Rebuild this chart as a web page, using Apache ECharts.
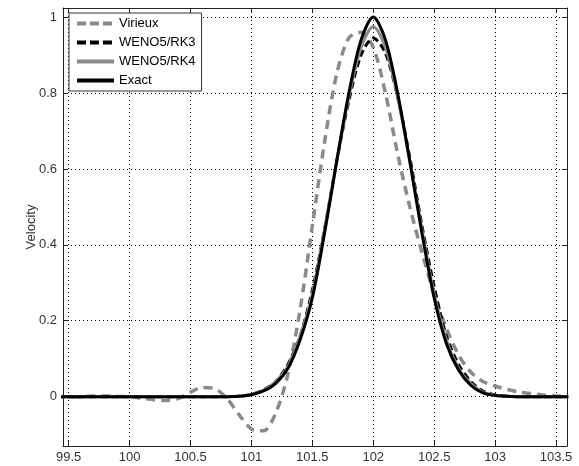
<!DOCTYPE html>
<html>
<head>
<meta charset="utf-8">
<script src="https://cdn.jsdelivr.net/npm/echarts@6/dist/echarts.min.js"></script>
<style>
  html, body { margin: 0; padding: 0; background: #fff; }
  #chart { width: 579px; height: 466px; }
</style>
</head>
<body>
<div id="chart"></div>
<script>
// Sample positions along the profile
const xs = [99.4, 99.5, 99.6, 99.7, 99.8, 99.9, 100.0, 100.1, 100.2, 100.3, 100.4,
  100.5, 100.6, 100.7, 100.8, 100.9, 101.0, 101.1, 101.2, 101.3, 101.4,
  101.5, 101.6, 101.7, 101.8, 101.9, 102.0, 102.1, 102.2, 102.3, 102.4,
  102.5, 102.6, 102.7, 102.8, 102.9, 103.0, 103.1, 103.2, 103.3, 103.4,
  103.5, 103.6];

// Velocity profiles
const virieux = [0, 0, 0, 0.002, 0.002, 0.001, 0, -0.004, -0.008, -0.01, -0.005,
  0.012, 0.024, 0.021, -0.005, -0.048, -0.085, -0.09, -0.043, 0.06, 0.23,
  0.45, 0.67, 0.85, 0.945, 0.96, 0.92, 0.80, 0.64, 0.50, 0.38,
  0.27, 0.18, 0.11, 0.065, 0.04, 0.028, 0.019, 0.012, 0.008, 0.004,
  0.002, 0];
const weno5rk3 = [0, 0, 0, 0, 0, 0, 0, 0, 0, 0, 0,
  0, 0, 0, 0, 0.001, 0.006, 0.018, 0.04, 0.085, 0.16,
  0.28, 0.44, 0.62, 0.78, 0.90, 0.945, 0.905, 0.79, 0.63, 0.45,
  0.29, 0.16, 0.085, 0.04, 0.015, 0.005, 0.001, 0, 0, 0,
  0, 0];
const weno5rk4 = [0, 0, 0, 0, 0, 0, 0, 0, 0, 0, 0,
  0, 0, 0, 0, 0.001, 0.006, 0.017, 0.04, 0.08, 0.16,
  0.27, 0.44, 0.62, 0.79, 0.92, 0.975, 0.92, 0.79, 0.62, 0.44,
  0.27, 0.15, 0.075, 0.035, 0.012, 0.004, 0.001, 0, 0, 0,
  0, 0];
const exact = [0, 0, 0, 0, 0, 0, 0, 0, 0, 0, 0,
  0, 0, 0, 0, 0.001, 0.005, 0.015, 0.035, 0.075, 0.15,
  0.26, 0.43, 0.62, 0.80, 0.94, 1.0, 0.94, 0.80, 0.62, 0.43,
  0.26, 0.14, 0.07, 0.03, 0.01, 0.003, 0.001, 0, 0, 0,
  0, 0];

const seriesNames = ['Virieux', 'WENO5/RK3', 'WENO5/RK4', 'Exact'];

const pairs = (ys) => xs.map((x, i) => [x, ys[i]]);

const FONT = 'Liberation Sans, Arial, sans-serif';
const AXIS_COLOR = '#222';
const X_MIN = 99.454, X_MAX = 103.59;
const Y_MIN = -0.13, Y_MAX = 1.024;

function xAxisCfg(pos, showLabels) {
  return {
    type: 'value', position: pos, min: X_MIN, max: X_MAX,
    minInterval: 0.5, maxInterval: 0.5,
    axisLine: { show: true, onZero: false, lineStyle: { color: AXIS_COLOR, width: 1 } },
    axisTick: { show: true, inside: true, length: 5, lineStyle: { color: AXIS_COLOR } },
    axisLabel: { show: showLabels, color: '#333', fontSize: 13, fontFamily: FONT, margin: 5,
      showMinLabel: false, showMaxLabel: false },
    splitLine: { show: showLabels, lineStyle: { color: '#000', width: 1, type: [1, 3] } }
  };
}
function yAxisCfg(pos, showLabels) {
  return {
    type: 'value', position: pos, min: Y_MIN, max: Y_MAX,
    minInterval: 0.2, maxInterval: 0.2,
    name: showLabels ? 'Velocity' : '', nameLocation: 'middle', nameGap: 25,
    nameMoveOverlap: false,
    nameTextStyle: { color: '#333', fontSize: 13, fontFamily: FONT },
    axisLine: { show: true, onZero: false, lineStyle: { color: AXIS_COLOR, width: 1 } },
    axisTick: { show: true, inside: true, length: 5, lineStyle: { color: AXIS_COLOR } },
    axisLabel: { show: showLabels, color: '#333', fontSize: 13, fontFamily: FONT, margin: 6,
      showMinLabel: false, showMaxLabel: false },
    splitLine: { show: showLabels, lineStyle: { color: '#000', width: 1, type: [1, 3] } }
  };
}

const styles = [
  { color: '#8a8a8a', width: 3.5, type: [9, 6] },
  { color: '#000000', width: 3, type: [7, 4] },
  { color: '#8a8a8a', width: 3, type: 'solid' },
  { color: '#000000', width: 3, type: 'solid' }
];
// Heavier strokes for the legend swatches
const legendStyles = [
  { color: '#8a8a8a', width: 4, type: [9, 4] },
  { color: '#000000', width: 4, type: [9, 4] },
  { color: '#8a8a8a', width: 4, type: 'solid' },
  { color: '#000000', width: 4, type: 'solid' }
];
const values = [virieux, weno5rk3, weno5rk4, exact];

const chart = echarts.init(document.getElementById('chart'), null, { renderer: 'canvas' });
chart.setOption({
  animation: false,
  backgroundColor: '#fff',
  grid: { left: 63, right: 12, top: 8, bottom: 20, containLabel: false },
  xAxis: [xAxisCfg('bottom', true), xAxisCfg('top', false)],
  yAxis: [yAxisCfg('left', true), yAxisCfg('right', false)],
  legend: {
    orient: 'vertical', left: 69, top: 13,
    backgroundColor: '#fff', borderColor: '#333', borderWidth: 1, borderRadius: 0,
    padding: [4, 6, 4, 6], itemGap: 6, itemWidth: 37, itemHeight: 13,
    textStyle: { color: '#000', fontSize: 13, fontFamily: FONT },
    itemStyle: { color: 'rgba(0,0,0,0)', borderWidth: 0, opacity: 0 },
    data: seriesNames.map((name, i) => ({ name, lineStyle: legendStyles[i] }))
  },
  series: seriesNames.map((name, i) => ({
    name, type: 'line', xAxisIndex: 0, yAxisIndex: 0,
    data: pairs(values[i]), smooth: 0.3, showSymbol: false, symbol: 'none',
    clip: true, lineStyle: styles[i], itemStyle: { color: styles[i].color }
  }))
});
</script>
</body>
</html>
